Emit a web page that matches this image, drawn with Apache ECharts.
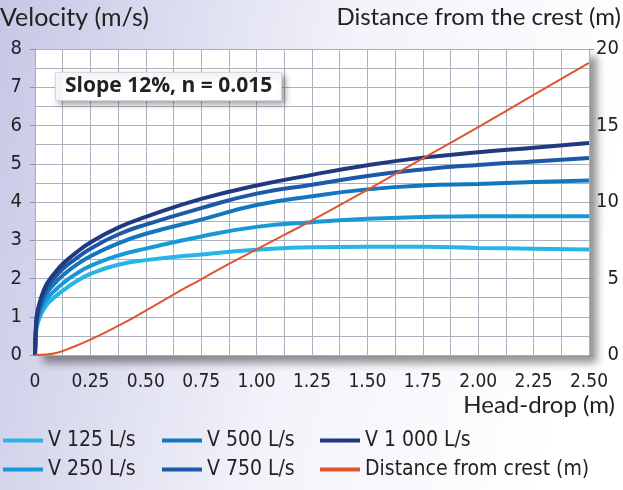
<!DOCTYPE html>
<html>
<head>
<meta charset="utf-8">
<script src="https://cdn.jsdelivr.net/npm/echarts@6/dist/echarts.min.js"></script>
<style>html,body{margin:0;padding:0;}#c{width:623px;height:490px;}</style>
</head>
<body>
<div id="c"></div>
<script>
// ---- data ----
var headDrop = [0, 0.005, 0.01, 0.02, 0.04, 0.06, 0.09, 0.125, 0.18, 0.25, 0.375, 0.5, 0.75, 1.0, 1.25, 1.5, 1.75, 2.0, 2.25, 2.5];
var v1000 = [0, 0.85, 1.1, 1.35, 1.7, 1.92, 2.15, 2.38, 2.65, 2.94, 3.33, 3.61, 4.08, 4.43, 4.71, 4.96, 5.16, 5.30, 5.42, 5.54];
var v750  = [0, 0.8, 1.04, 1.28, 1.6, 1.81, 2.03, 2.25, 2.5, 2.78, 3.15, 3.41, 3.84, 4.22, 4.45, 4.68, 4.85, 4.97, 5.06, 5.15];
var v500  = [0, 0.74, 0.96, 1.18, 1.48, 1.68, 1.88, 2.08, 2.33, 2.58, 2.92, 3.17, 3.54, 3.92, 4.15, 4.33, 4.43, 4.47, 4.52, 4.56];
var v250  = [0, 0.67, 0.87, 1.06, 1.34, 1.51, 1.69, 1.87, 2.1, 2.33, 2.6, 2.78, 3.10, 3.35, 3.47, 3.56, 3.61, 3.63, 3.63, 3.63];
var v125  = [0, 0.6, 0.78, 0.96, 1.2, 1.36, 1.52, 1.68, 1.9, 2.12, 2.36, 2.48, 2.63, 2.75, 2.82, 2.83, 2.83, 2.80, 2.78, 2.76];
var distH = [0, 0.05, 0.1, 0.15, 0.25, 0.375, 0.5, 0.625, 0.75, 0.875, 1.0, 1.125, 1.25, 1.5, 1.75, 2.0, 2.25, 2.5];
var distM = [0, 0.03, 0.15, 0.4, 1.0, 1.9, 2.9, 3.95, 4.95, 5.95, 6.9, 7.85, 8.8, 10.8, 12.85, 14.9, 17.0, 19.1];
var xTickLabels = ['0', '0.25', '0.50', '0.75', '1.00', '1.25', '1.50', '1.75', '2.00', '2.25', '2.50'];
var seriesNames = ['V 125 L/s', 'V 250 L/s', 'V 500 L/s', 'V 750 L/s', 'V 1 000 L/s', 'Distance from crest (m)'];
var seriesColors = ['#27b4e8', '#1898d6', '#1377c0', '#1c59a8', '#213a7f', '#e0552e'];

function pairs(xs, ys) { return xs.map(function (x, i) { return [x, ys[i]]; }); }

var narrow = '"Liberation Sans Narrow", "Arial Narrow", "DejaVu Sans Condensed", sans-serif';
var human = 'Lato, "Open Sans", "Noto Sans", sans-serif';

var chart = echarts.init(document.getElementById('c'), null, {renderer: 'canvas'});
var velSets = [v125, v250, v500, v750, v1000];
var series = velSets.map(function (vals, i) {
  return {
    name: seriesNames[i], type: 'line', yAxisIndex: 0,
    data: pairs(headDrop, vals), showSymbol: false, smooth: 0.5,
    lineStyle: {width: 4, color: seriesColors[i]}, itemStyle: {color: seriesColors[i]}, z: 3
  };
});
series.push({
  name: seriesNames[5], type: 'line', yAxisIndex: 1,
  data: pairs(distH, distM), showSymbol: false, smooth: 0.5,
  lineStyle: {width: 2, color: seriesColors[5]}, itemStyle: {color: seriesColors[5]}, z: 4
});

var legendBase = {
  orient: 'vertical', icon: 'rect', itemWidth: 40, itemHeight: 4, itemGap: 8,
  textStyle: {fontFamily: narrow, fontSize: 21, color: '#222'}, selectedMode: false
};

chart.setOption({
  animation: false,
  backgroundColor: {
    type: 'linear', x: 0, y: 0, x2: 1, y2: 0.3,
    colorStops: [{offset: 0, color: '#c6c7e5'}, {offset: 0.55, color: '#f2f2fa'}, {offset: 1, color: '#ffffff'}]
  },
  title: {
    text: 'Slope 12%, n = 0.015', left: 55, top: 72, padding: [4, 10],
    backgroundColor: '#ffffff', borderColor: '#d8d8d8', borderWidth: 1,
    shadowBlur: 6, shadowColor: 'rgba(0,0,0,0.35)', shadowOffsetX: 3, shadowOffsetY: 3,
    textStyle: {fontFamily: '"Open Sans", Lato, sans-serif', fontWeight: 'bold', fontSize: 21, color: '#222'}
  },
  grid: {
    left: 35, right: 34, top: 49, bottom: 135, show: true, backgroundColor: '#ffffff', borderWidth: 0,
    shadowBlur: 8, shadowColor: 'rgba(0,0,0,0.42)', shadowOffsetX: 8, shadowOffsetY: 8
  },
  legend: [
    Object.assign({left: -2, top: 425, data: [seriesNames[0], seriesNames[1]]}, legendBase),
    Object.assign({left: 157, top: 425, data: [seriesNames[2], seriesNames[3]]}, legendBase),
    Object.assign({left: 315, top: 425, data: [seriesNames[4], seriesNames[5]]}, legendBase)
  ],
  xAxis: {
    type: 'value', min: 0, max: 2.5, interval: 0.25,
    axisLine: {show: true, lineStyle: {color: '#a8aebb', width: 1}},
    axisTick: {show: false},
    axisLabel: {
      margin: 18, fontFamily: narrow, fontSize: 19, color: '#222',
      formatter: function (v) { return xTickLabels[Math.round(v / 0.25)]; }
    },
    splitLine: {show: true, lineStyle: {color: '#a9b0be', width: 1}},
    minorTick: {show: false, splitNumber: 2},
    minorSplitLine: {show: true, lineStyle: {color: '#a9b0be', width: 1}}
  },
  yAxis: [{
    type: 'value', min: 0, max: 8, interval: 1, position: 'left',
    axisLine: {show: true, lineStyle: {color: '#a8aebb', width: 1}},
    axisTick: {show: true, length: 5, lineStyle: {color: '#8a90a0'}},
    axisLabel: {margin: 13, fontFamily: narrow, fontSize: 20, color: '#222'},
    splitLine: {show: true, lineStyle: {color: '#a9b0be', width: 1}},
    minorTick: {show: false, splitNumber: 2},
    minorSplitLine: {show: true, lineStyle: {color: '#a9b0be', width: 1}}
  }, {
    type: 'value', min: 0, max: 20, interval: 5, position: 'right',
    axisLine: {show: false},
    axisTick: {show: true, length: 5, lineStyle: {color: '#8a90a0'}},
    axisLabel: {margin: 30, align: 'right', fontFamily: narrow, fontSize: 20, color: '#222'},
    splitLine: {show: false}
  }],
  graphic: [
    {type: 'text', left: 0, top: 5, style: {text: 'Velocity (m/s)', font: '25px ' + human, fill: '#222'}},
    {type: 'text', right: 2, top: 5, style: {text: 'Distance from the crest (m)', font: '24px ' + human, fill: '#222'}},
    {type: 'text', right: 8, top: 393, style: {text: 'Head-drop (m)', font: '24px ' + human, fill: '#222'}}
  ],
  series: series
});
</script>
</body>
</html>
